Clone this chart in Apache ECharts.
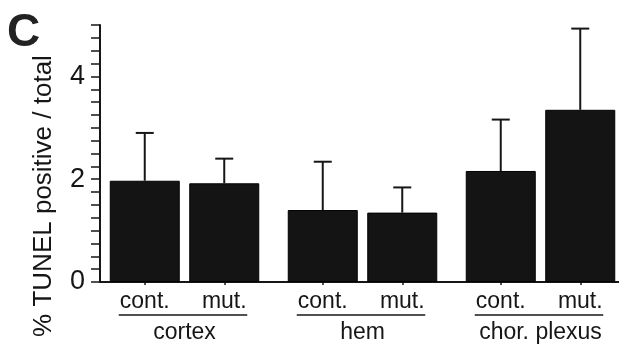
<!DOCTYPE html>
<html>
<head>
<meta charset="utf-8">
<script src="https://cdn.jsdelivr.net/npm/echarts@6/dist/echarts.min.js"></script>
<style>
html,body{margin:0;padding:0;background:#fff;}
#chart{width:619px;height:345px;}
</style>
</head>
<body>
<div id="chart"></div>
<script>
// ---- data ----
var categories = ['cont.', 'mut.'];
var groups = ['cortex', 'hem', 'chor. plexus'];
var contMeans = [1.97, 1.40, 2.16];
var mutMeans = [1.92, 1.35, 3.35];
var contErr = [0.93, 0.94, 1.00];
var mutErr = [0.48, 0.49, 1.58];
var yTickLabels = ['0', '2', '4'];
var yAxisTitle = '% TUNEL positive / total';
var panelLetter = 'C';

// ---- layout ----
var FONT = '"Liberation Sans", Arial, Helvetica, sans-serif';
var INK = '#161616';
var gridTop = 25, gridBottom = 63;
var groupLefts = [105, 283, 461];
var groupWidth = 159;

var grids = [{ left: 100, right: 0, top: gridTop, bottom: gridBottom, containLabel: false, outerBoundsMode: 'none' }];
var xAxes = [{
  gridIndex: 0, type: 'value', min: 0, max: 1,
  axisLine: { show: true, lineStyle: { color: INK, width: 2 } },
  axisTick: { show: false }, axisLabel: { show: false }, splitLine: { show: false }
}];
var yAxes = [{
  gridIndex: 0, type: 'value', min: 0, max: 5, interval: 0.25,
  axisLine: { show: true, lineStyle: { color: INK, width: 2 } },
  axisTick: { show: true, length: 9, lineStyle: { color: INK, width: 1.5 } },
  splitLine: { show: false },
  axisLabel: {
    margin: 15, fontSize: 27, color: INK, fontFamily: FONT,
    formatter: function (v) {
      var s = String(v);
      return yTickLabels.indexOf(s) >= 0 ? s : '';
    }
  }
}];
var series = [];

groups.forEach(function (g, i) {
  grids.push({ left: groupLefts[i], width: groupWidth, top: gridTop, bottom: gridBottom, containLabel: false, outerBoundsMode: 'none' });
  xAxes.push({
    gridIndex: i + 1, type: 'category', data: categories,
    name: g, nameLocation: 'middle', nameGap: 39,
    nameTextStyle: { fontSize: 23, color: INK, fontFamily: FONT },
    axisLine: { show: false },
    axisTick: { show: true, alignWithLabel: true, length: 3, lineStyle: { color: INK, width: 1.5 } },
    axisLabel: { margin: 8, fontSize: 23, color: INK, fontFamily: FONT }
  });
  yAxes.push({ gridIndex: i + 1, type: 'value', min: 0, max: 5, show: false });
  var means = [contMeans[i], mutMeans[i]];
  var errs = [contErr[i], mutErr[i]];
  series.push({
    type: 'bar', xAxisIndex: i + 1, yAxisIndex: i + 1,
    data: means, barWidth: 70,
    itemStyle: { color: '#141414', borderColor: '#000', borderWidth: 1 },
    silent: true, animation: false
  });
  series.push({
    type: 'custom', xAxisIndex: i + 1, yAxisIndex: i + 1, clip: false,
    data: means.map(function (m, k) { return [k, m, m + errs[k]]; }),
    renderItem: function (params, api) {
      var p0 = api.coord([api.value(0), api.value(1)]);
      var p1 = api.coord([api.value(0), api.value(2)]);
      var st = { stroke: INK, lineWidth: 2 };
      return {
        type: 'group', children: [
          { type: 'line', shape: { x1: p0[0], y1: p0[1], x2: p1[0], y2: p1[1] }, style: st },
          { type: 'line', shape: { x1: p1[0] - 9, y1: p1[1], x2: p1[0] + 9, y2: p1[1] }, style: st }
        ]
      };
    },
    silent: true, animation: false, z: 5
  });
  // underline spanning the two category labels
  series.push({
    type: 'custom', xAxisIndex: i + 1, yAxisIndex: i + 1, clip: false,
    data: [[0, 0]],
    renderItem: function (params, api) {
      var a = api.coord([0, 0]);
      var b = api.coord([1, 0]);
      var y = a[1] + 33;
      return {
        type: 'line',
        shape: { x1: a[0] - 26, y1: y, x2: b[0] + 23, y2: y },
        style: { stroke: INK, lineWidth: 1.6 }
      };
    },
    silent: true, animation: false
  });
});

var chart = echarts.init(document.getElementById('chart'), null, { renderer: 'canvas' });
chart.setOption({
  backgroundColor: '#fff',
  animation: false,
  grid: grids,
  xAxis: xAxes,
  yAxis: yAxes,
  series: series,
  graphic: [
    {
      type: 'text', left: 7, top: 10,
      style: { text: panelLetter, fontSize: 46, fontWeight: 'bold', fill: '#222', fontFamily: FONT }
    },
    {
      type: 'text', x: 44, y: 196, rotation: Math.PI / 2,
      style: { text: yAxisTitle, fontSize: 26, fill: INK, fontFamily: FONT, align: 'center', verticalAlign: 'middle' }
    }
  ]
});
</script>
</body>
</html>
